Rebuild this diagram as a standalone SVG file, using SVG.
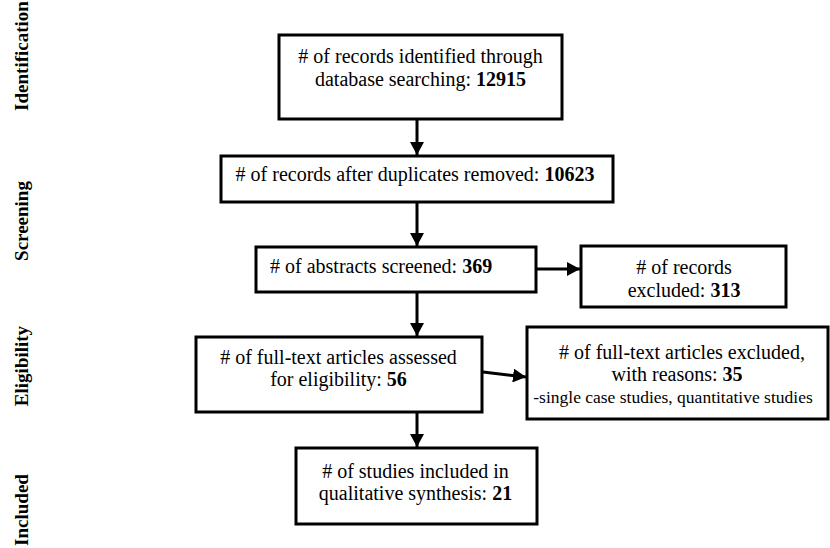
<svg xmlns="http://www.w3.org/2000/svg" width="830" height="548" viewBox="0 0 830 548">
<defs>
<marker id="ah" markerWidth="14" markerHeight="14" viewBox="0 0 14 14" refX="13" refY="7" orient="auto" markerUnits="userSpaceOnUse">
<path d="M0,0 L13,7 L0,14 Z" fill="#000"/>
</marker>
<style>
.box{fill:#fff;stroke:#000;stroke-width:3}
.t{font-family:"Liberation Serif","Times New Roman",serif;font-size:20px;fill:#000}
.m{text-anchor:middle}
.b{font-weight:bold}
.s{font-size:17.5px}
.side{font-family:"Liberation Serif","Times New Roman",serif;font-size:19px;font-weight:bold;fill:#000;text-anchor:middle}
.c{stroke:#000;stroke-width:3;fill:none;marker-end:url(#ah)}
</style>
</defs>
<rect width="830" height="548" fill="#fff"/>
<g id="labels">
<text class="side" transform="translate(28,56) rotate(-90)">Identification</text>
<text class="side" transform="translate(28,221) rotate(-90)">Screening</text>
<text class="side" transform="translate(28,366) rotate(-90)">Eligibility</text>
<text class="side" transform="translate(28,510) rotate(-90)">Included</text>
</g>
<g id="connectors">
<line class="c" x1="417" y1="119" x2="417" y2="155"/>
<line class="c" x1="417" y1="202" x2="417" y2="246"/>
<line class="c" x1="417" y1="292" x2="417" y2="336"/>
<line class="c" x1="417" y1="412" x2="417" y2="447"/>
<line class="c" x1="536" y1="269" x2="580" y2="269"/>
<line class="c" x1="483" y1="372" x2="526" y2="377"/>
</g>
<g id="n1">
<rect class="box" x="279" y="35" width="283" height="84"/>
<text class="t m" x="420.5" y="63"># of records identified through</text>
<text class="t m" x="420.5" y="86">database searching: <tspan class="b">12915</tspan></text>
</g>
<g id="n2">
<rect class="box" x="221" y="156" width="392" height="46"/>
<text class="t m" x="415" y="181"># of records after duplicates removed: <tspan class="b">10623</tspan></text>
</g>
<g id="n3">
<rect class="box" x="256" y="247" width="280" height="45"/>
<text class="t" x="270" y="273"># of abstracts screened: <tspan class="b">369</tspan></text>
</g>
<g id="n4">
<rect class="box" x="581" y="246" width="205" height="61"/>
<text class="t m" x="684" y="274"># of records</text>
<text class="t m" x="684" y="297">excluded: <tspan class="b">313</tspan></text>
</g>
<g id="n5">
<rect class="box" x="196" y="337" width="286" height="75"/>
<text class="t m" x="338.5" y="364"># of full-text articles assessed</text>
<text class="t m" x="338.5" y="386">for eligibility: <tspan class="b">56</tspan></text>
</g>
<g id="n6">
<rect class="box" x="527" y="327" width="301" height="92"/>
<text class="t m" x="682" y="359"># of full-text articles excluded,</text>
<text class="t m" x="677" y="381">with reasons: <tspan class="b">35</tspan></text>
<text class="t m s" x="673" y="403">-single case studies, quantitative studies</text>
</g>
<g id="n7">
<rect class="box" x="296" y="448" width="241" height="76"/>
<text class="t m" x="415.5" y="478"># of studies included in</text>
<text class="t m" x="415.5" y="500">qualitative synthesis: <tspan class="b">21</tspan></text>
</g>
</svg>
